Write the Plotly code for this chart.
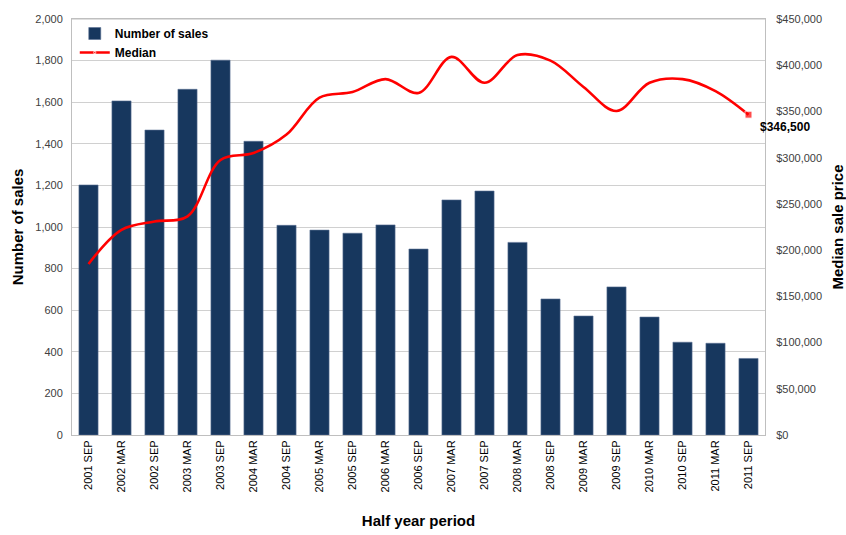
import plotly.graph_objects as go

# Half-year periods
periods = ["2001 SEP", "2002 MAR", "2002 SEP", "2003 MAR", "2003 SEP", "2004 MAR",
           "2004 SEP", "2005 MAR", "2005 SEP", "2006 MAR", "2006 SEP", "2007 MAR",
           "2007 SEP", "2008 MAR", "2008 SEP", "2009 MAR", "2009 SEP", "2010 MAR",
           "2010 SEP", "2011 MAR", "2011 SEP"]

# Number of sales per period
sales = [1202, 1606, 1466, 1662, 1802, 1412, 1008, 985, 970, 1010, 894, 1130,
         1173, 926, 654, 572, 712, 567, 446, 441, 368]

# Median sale price per period
median = [185000, 222000, 231000, 236500, 297500, 305000, 325000, 365000, 371000,
          385000, 370000, 409000, 381000, 411000, 405000, 376500, 350500, 381000,
          385000, 372000, 346500]

left_ticks = list(range(0, 2001, 200))
right_ticks = list(range(0, 450001, 50000))

font_family = "Liberation Sans, Arial, sans-serif"
grid_col = "#D0D0D0"
frame_col = "#BFBFBF"

fig = go.Figure()

fig.add_trace(go.Bar(
    x=periods, y=sales, name="Number of sales",
    marker=dict(color="#17375E", line=dict(color="#5A7194", width=0.6)),
))

marker_sizes = [0] * (len(median) - 1) + [7]
fig.add_trace(go.Scatter(
    x=periods, y=median, name="Median", yaxis="y2",
    mode="lines+markers",
    line=dict(color="#FF0000", width=2.6, shape="spline", smoothing=1.0),
    marker=dict(color="#FF0000", size=marker_sizes, symbol="square"),
))

# Value label for the latest median
fig.add_annotation(
    x=periods[-1], y=median[-1], yref="y2",
    text="<b>${:,}</b>".format(median[-1]),
    showarrow=False, xanchor="left", yanchor="middle",
    xshift=9, yshift=-12,
    font=dict(family=font_family, size=12, color="#000000"),
)

fig.update_layout(
    width=846, height=535,
    margin=dict(l=72, r=81, t=19, b=100),
    paper_bgcolor="white", plot_bgcolor="white",
    font=dict(family=font_family, size=11, color="#404040"),
    bargap=0.42,
    showlegend=True,
    legend=dict(
        x=0.004, y=1.0, xanchor="left", yanchor="top",
        bgcolor="rgba(255,255,255,0)",
        font=dict(family=font_family, size=12, color="#000000", weight="bold"),
        tracegroupgap=4, itemwidth=30,
    ),
    xaxis=dict(
        range=[-0.5, len(periods) - 0.5],
        tickangle=-90, tickfont=dict(size=11, color="#000000"),
        showline=True, linecolor=frame_col, mirror=True,
        showgrid=False, ticks="", automargin=False,
        title=dict(text="<b>Half year period</b>",
                   font=dict(size=15, color="#000000"), standoff=24),
    ),
    yaxis=dict(
        range=[0, 2000], tickvals=left_ticks,
        ticktext=["{:,}".format(v) for v in left_ticks],
        showline=True, linecolor=frame_col,
        showgrid=True, gridcolor=grid_col, gridwidth=1,
        zeroline=False, ticks="", ticklabelstandoff=6, automargin=False,
        title=dict(text="<b>Number of sales</b>",
                   font=dict(size=15, color="#000000"), standoff=8),
    ),
    yaxis2=dict(
        range=[0, 450000], tickvals=right_ticks,
        ticktext=["${:,}".format(v) for v in right_ticks],
        overlaying="y", side="right",
        showline=True, linecolor=frame_col,
        showgrid=False, zeroline=False, ticks="", ticklabelstandoff=8,
        automargin=False,
        title=dict(text="<b>Median sale price</b>",
                   font=dict(size=15, color="#000000"), standoff=14),
    ),
)

# Top edge of the plot frame
fig.add_shape(type="line", xref="paper", yref="paper", x0=0, x1=1, y0=1, y1=1,
              line=dict(color=frame_col, width=1))

fig.write_html("out.html")
